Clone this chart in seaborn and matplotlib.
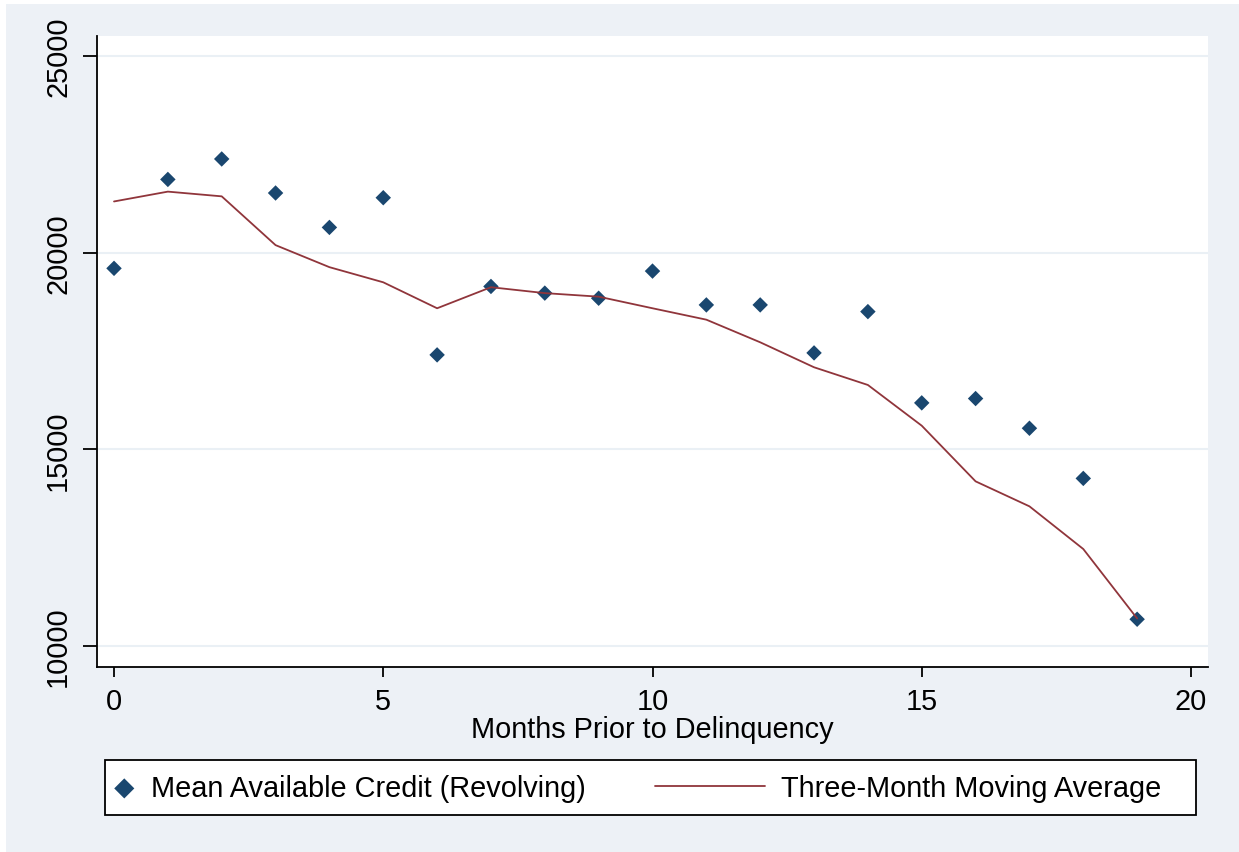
import numpy as np
import pandas as pd
import seaborn as sns
from matplotlib import pyplot as plt
from matplotlib.patches import Rectangle

months = np.arange(20)
mean_credit = [19600, 21860, 22380, 21515, 20640, 21395, 17400, 19140, 18970, 18840,
               19530, 18670, 18670, 17450, 18500, 16180, 16290, 15535, 14260, 10680]
moving_avg = [21300, 21550, 21430, 20190, 19630, 19245, 18585, 19120, 18970, 18880,
              18585, 18295, 17720, 17085, 16635, 15600, 14185, 13550, 12465, 10700]
x_ticks = [0, 5, 10, 15, 20]
y_ticks = [10000, 15000, 20000, 25000]
label_pts = "Mean Available Credit (Revolving)"
label_line = "Three-Month Moving Average"

df = pd.DataFrame({"month": months, "credit": mean_credit, "ma": moving_avg})

sns.set_style("white")
plt.rcParams['font.family'] = ['Liberation Sans', 'DejaVu Sans']
plt.rcParams['text.color'] = 'black'
plt.rcParams['axes.labelcolor'] = 'black'
plt.rcParams['xtick.color'] = 'black'
plt.rcParams['ytick.color'] = 'black'
fs = 20.8

W, H = 1239, 853
fig = plt.figure(figsize=(W / 100, H / 100), dpi=100, facecolor='white')
fig.patches.append(Rectangle((6 / W, 0), 1 - 6 / W, 1 - 5 / H, transform=fig.transFigure,
                             facecolor='#EDF1F6', edgecolor='none', zorder=-10))
ax = fig.add_axes([97 / W, 1 - 668 / H, (1208 - 97) / W, (668 - 37) / H])
ax.set_facecolor('white')

sns.scatterplot(data=df, x="month", y="credit", marker='D', s=62, color='#1A476F',
                edgecolor='none', label=label_pts, ax=ax, zorder=3)
sns.lineplot(data=df, x="month", y="ma", color='#90353B', lw=1.3, label=label_line,
             ax=ax, zorder=4)

ax.set_xlim(-0.316, 20.316)
ax.set_ylim(9466, 25506)
ax.set_xticks(x_ticks)
ax.set_yticks(y_ticks)
ax.yaxis.grid(True, color='#EAF0F5', lw=1.5)
ax.xaxis.grid(False)
for s in ['top', 'right']:
    ax.spines[s].set_visible(False)
for s in ['left', 'bottom']:
    ax.spines[s].set_color('black')
    ax.spines[s].set_linewidth(1.3)
ax.tick_params(axis='y', length=10, width=1.3, color='black', pad=8, labelsize=fs,
               labelcolor='black', left=True)
ax.tick_params(axis='x', length=7.5, width=1.3, color='black', pad=7, labelsize=fs,
               labelcolor='black', bottom=True)
plt.setp(ax.get_yticklabels(), rotation=90, va='center')
ax.set_xlabel("Months Prior to Delinquency", fontsize=fs, labelpad=0, color='black')
ax.set_ylabel("")

handles, labels = ax.get_legend_handles_labels()
if ax.get_legend():
    ax.get_legend().remove()

fig.patches.append(Rectangle((105 / W, 1 - 816 / H), (1196 - 105) / W, 55 / H,
                             transform=fig.transFigure, facecolor='white',
                             edgecolor='black', lw=1.3, zorder=1))
fig.legend([handles[0]], [labels[0]], loc='center left', bbox_to_anchor=(112 / W, 1 - 789 / H),
           frameon=False, fontsize=fs, handlelength=0.85, handletextpad=0.5,
           borderpad=0, borderaxespad=0, markerscale=1.3, labelcolor='black')
fig.legend([handles[1]], [labels[1]], loc='center left', bbox_to_anchor=(655 / W, 1 - 789 / H),
           frameon=False, fontsize=fs, handlelength=3.8, handletextpad=0.55,
           borderpad=0, borderaxespad=0, labelcolor='black')

fig.savefig("out.png", dpi=100, facecolor='white')
